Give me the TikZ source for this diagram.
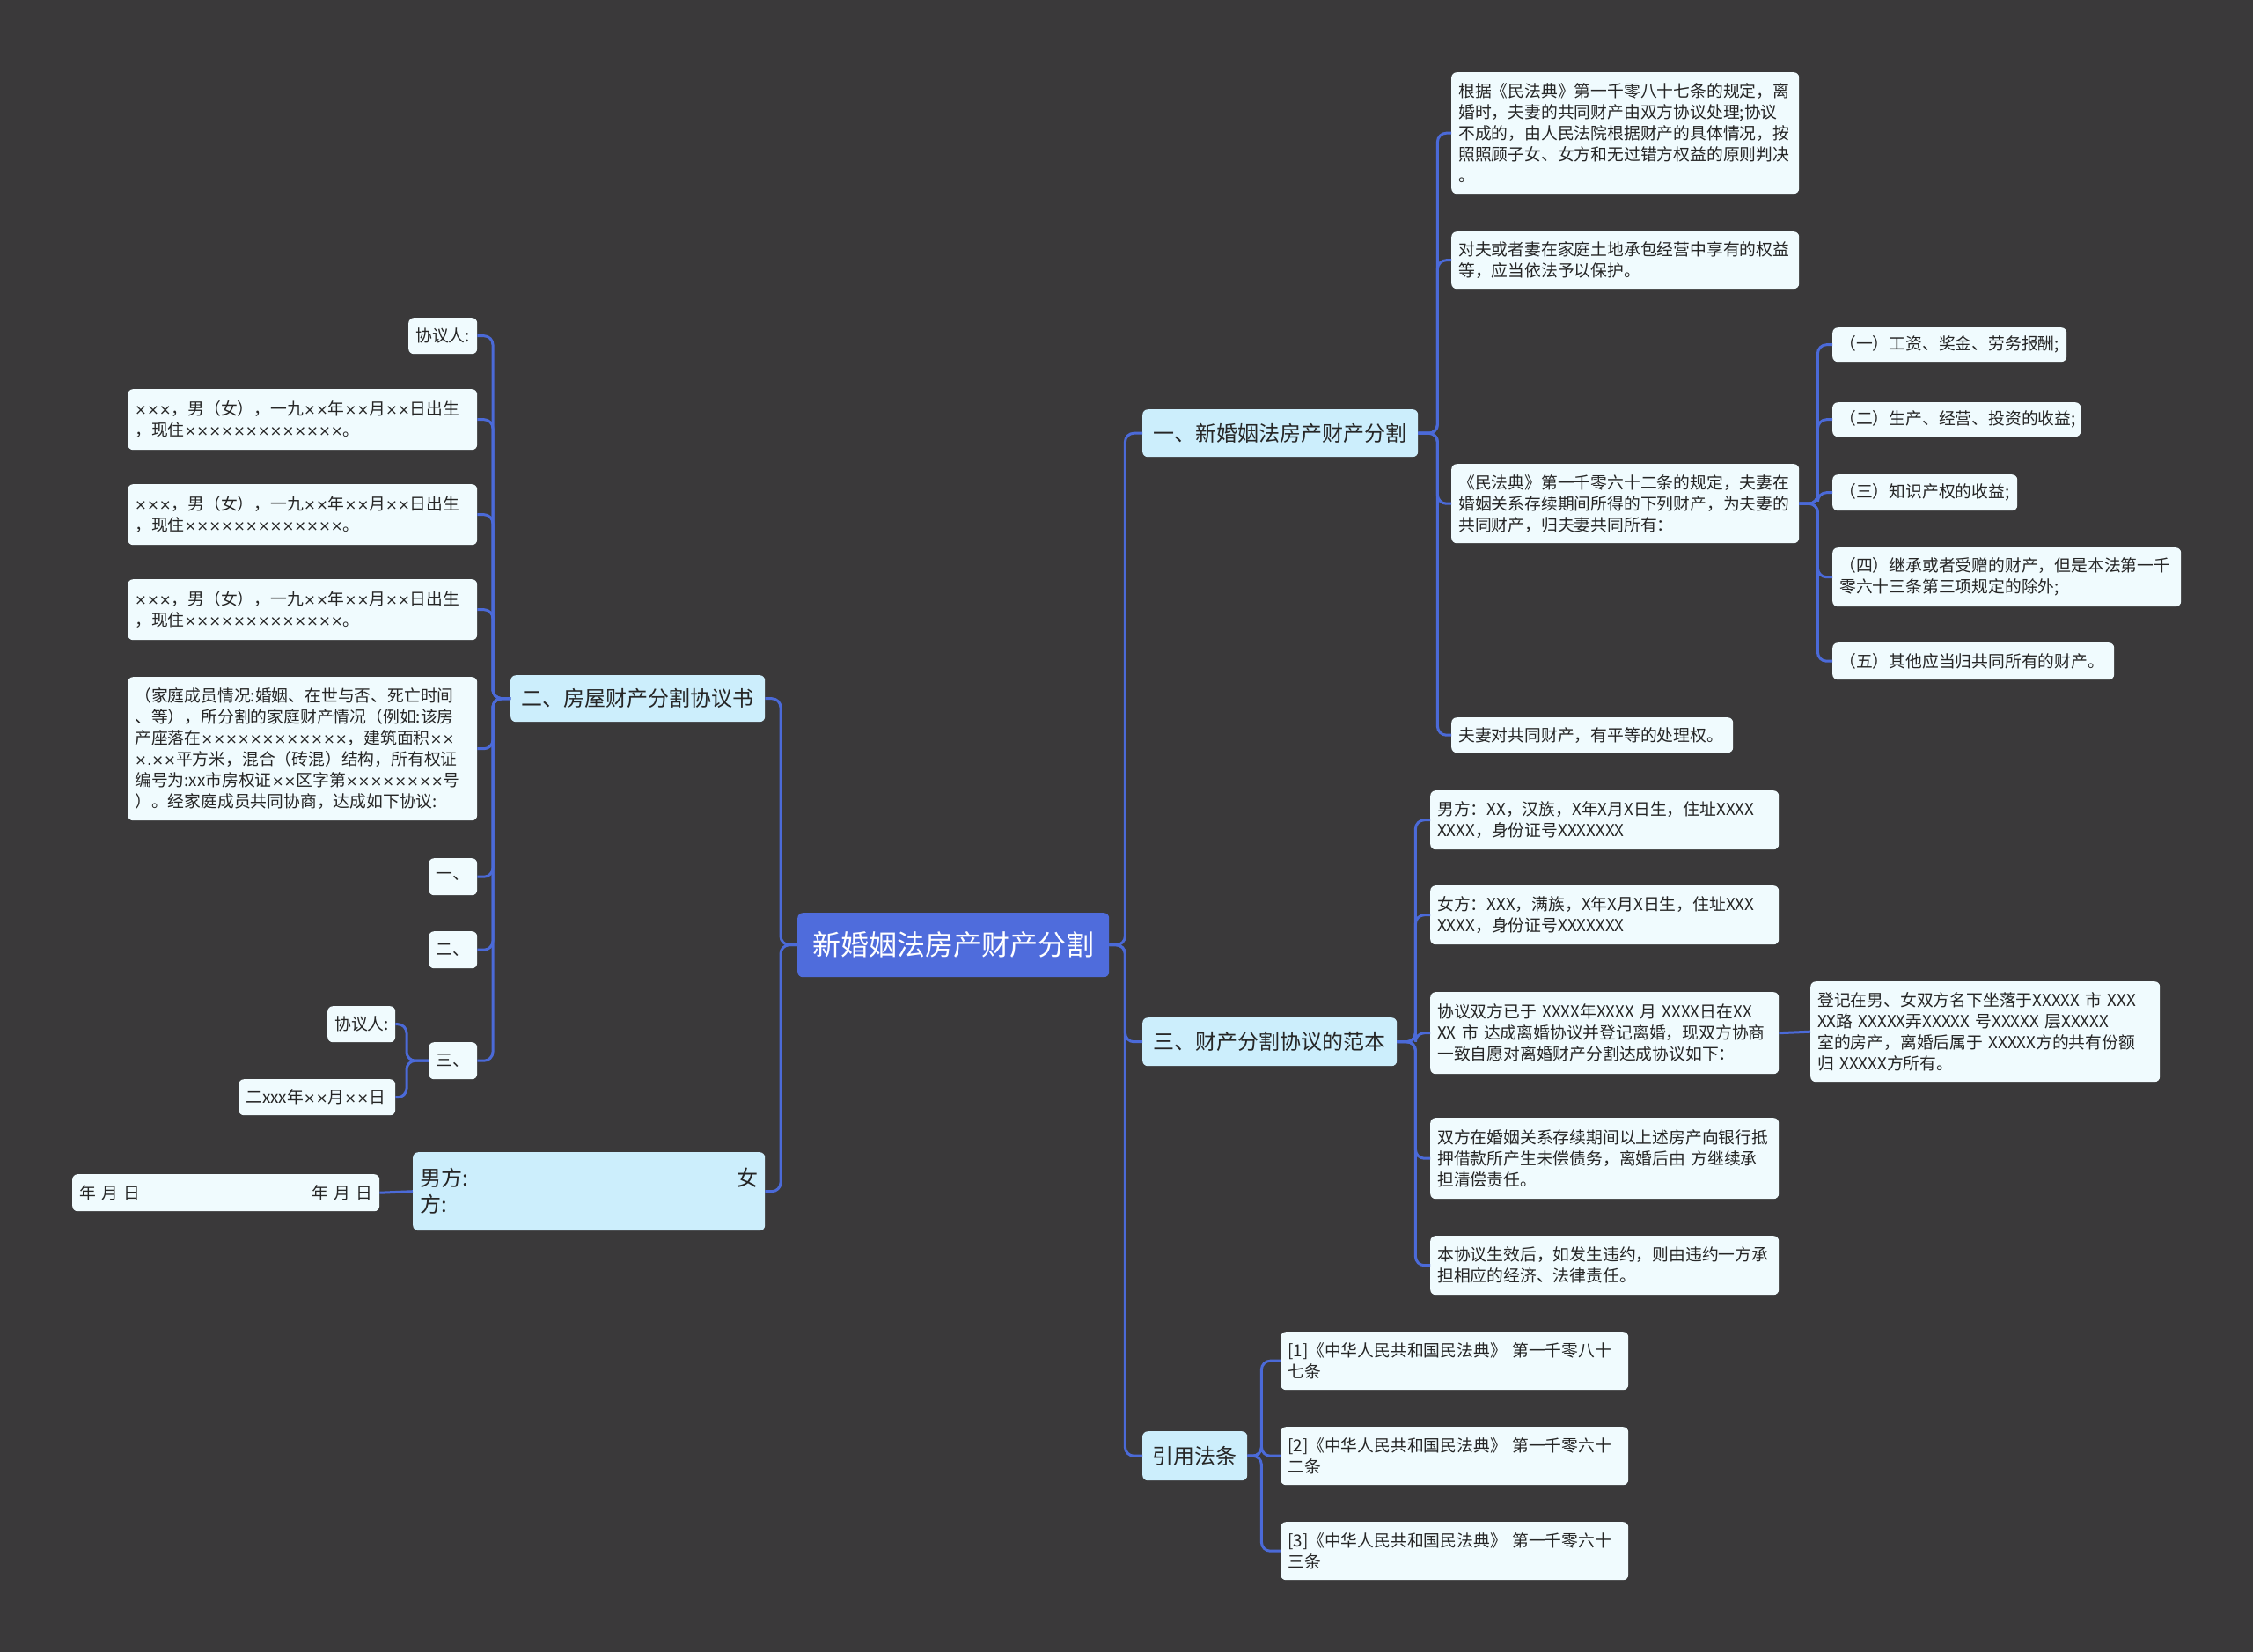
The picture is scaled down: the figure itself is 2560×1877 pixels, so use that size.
\documentclass[tikz,border=0pt]{standalone}
\usepackage{fontspec}
\setmainfont{Noto Sans CJK SC}
\newfontfamily\xfont[Scale=0.88]{DejaVu Sans}
\newcommand\xs[1]{{\xfont #1}}
\definecolor{bgc}{HTML}{3A393A}
\definecolor{rootc}{HTML}{4F6CDC}
\definecolor{branchc}{HTML}{CCEEFC}
\definecolor{leafc}{HTML}{F0FBFE}
\definecolor{linec}{HTML}{4B6AD8}

\begin{document}
\begin{tikzpicture}[x=1pt, y=-1pt,
  box/.style={rounded corners=6, inner xsep=8, inner ysep=0, anchor=north west},
  leaf/.style={box, fill=leafc, text=black!85, align=left, font=\fontsize{18.8}{24}\selectfont},
  branch/.style={box, fill=branchc, text=black!85, align=center, font=\fontsize{24}{30}\selectfont},
  link/.style={draw=linec, line width=3, rounded corners=10}]
  \fill[bgc] (0,0) rectangle (2560,1877);
  \useasboundingbox (0,0) rectangle (2560,1877);

  \node[box, fill=rootc, text=white, font=\fontsize{32}{38}\selectfont, minimum width=354, minimum height=73] (root) at (906,1037) {新婚姻法房产财产分割};

  \node[branch, minimum width=313, minimum height=54] (b1) at (1298,465) {一、新婚姻法房产财产分割};
  \node[leaf, text width=379, minimum height=138] (a1) at (1649,82) {根据《民法典》第一千零八十七条的规定，离\\婚时，夫妻的共同财产由双方协议处理;协议\\不成的，由人民法院根据财产的具体情况，按\\照照顾子女、女方和无过错方权益的原则判决\\。};
  \node[leaf, text width=379, minimum height=65] (a2) at (1649,263) {对夫或者妻在家庭土地承包经营中享有的权益\\等，应当依法予以保护。};
  \node[leaf, text width=379, minimum height=90] (a3) at (1649,527) {《民法典》第一千零六十二条的规定，夫妻在\\婚姻关系存续期间所得的下列财产，为夫妻的\\共同财产，归夫妻共同所有：};
  \node[leaf, text width=304, minimum height=40] (a4) at (1649,815) {夫妻对共同财产，有平等的处理权。};
  \node[leaf, text width=250, minimum height=39] (c1) at (2082,372) {（一）工资、奖金、劳务报酬;};
  \node[leaf, text width=266, minimum height=39] (c2) at (2082,457) {（二）生产、经营、投资的收益;};
  \node[leaf, text width=194, minimum height=41] (c3) at (2082,539) {（三）知识产权的收益;};
  \node[leaf, text width=380, minimum height=67] (c4) at (2082,622) {（四）继承或者受赠的财产，但是本法第一千\\零六十三条第三项规定的除外;};
  \node[leaf, text width=304, minimum height=42] (c5) at (2082,730) {（五）其他应当归共同所有的财产。};

  \node[branch, minimum width=289, minimum height=55] (b3) at (1298,1156) {三、财产分割协议的范本};
  \node[leaf, text width=380, minimum height=67] (d1) at (1625,898) {男方：XX，汉族，X年X月X日生，住址XXXX\\XXXX，身份证号XXXXXXX};
  \node[leaf, text width=380, minimum height=67] (d2) at (1625,1006) {女方：XXX，满族，X年X月X日生，住址XXX\\XXXX，身份证号XXXXXXX};
  \node[leaf, text width=380, minimum height=93] (d3) at (1625,1127) {协议双方已于 XXXX年XXXX 月 XXXX日在XX\\XX 市 达成离婚协议并登记离婚，现双方协商\\一致自愿对离婚财产分割达成协议如下：};
  \node[leaf, text width=380, minimum height=92] (d4) at (1625,1270) {双方在婚姻关系存续期间以上述房产向银行抵\\押借款所产生未偿债务，离婚后由 方继续承\\担清偿责任。};
  \node[leaf, text width=380, minimum height=67] (d5) at (1625,1404) {本协议生效后，如发生违约，则由违约一方承\\担相应的经济、法律责任。};
  \node[leaf, text width=381, minimum height=114] (e1) at (2057,1115) {登记在男、女双方名下坐落于XXXXX 市 XXX\\XX路 XXXXX弄XXXXX 号XXXXX 层XXXXX\\室的房产，离婚后属于 XXXXX方的共有份额\\归 XXXXX方所有。};

  \node[branch, minimum width=119, minimum height=56] (b4) at (1298,1626) {引用法条};
  \node[leaf, text width=379, minimum height=66] (f1) at (1455,1513) {[1]《中华人民共和国民法典》 第一千零八十\\七条};
  \node[leaf, text width=379, minimum height=66] (f2) at (1455,1621) {[2]《中华人民共和国民法典》 第一千零六十\\二条};
  \node[leaf, text width=379, minimum height=66] (f3) at (1455,1729) {[3]《中华人民共和国民法典》 第一千零六十\\三条};

  \node[branch, minimum width=289, minimum height=53] (b2) at (580,767) {二、房屋财产分割协议书};
  \node[leaf, text width=62, minimum height=41] (g1) at (464,361) {协议人:};
  \node[leaf, text width=381, minimum height=69] (g2) at (145,442) {\xs{×××}，男（女），一九\xs{××}年\xs{××}月\xs{××}日出生\\，现住\xs{×××××××××××××}。};
  \node[leaf, text width=381, minimum height=69] (g3) at (145,550) {\xs{×××}，男（女），一九\xs{××}年\xs{××}月\xs{××}日出生\\，现住\xs{×××××××××××××}。};
  \node[leaf, text width=381, minimum height=69] (g4) at (145,658) {\xs{×××}，男（女），一九\xs{××}年\xs{××}月\xs{××}日出生\\，现住\xs{×××××××××××××}。};
  \node[leaf, text width=381, minimum height=163] (g5) at (145,769) {（家庭成员情况:婚姻、在世与否、死亡时间\\、等），所分割的家庭财产情况（例如:该房\\产座落在\xs{××××××××××××}，建筑面积\xs{××}\\\xs{×.××}平方米，混合（砖混）结构，所有权证\\编号为:xx市房权证\xs{××}区字第\xs{××××××××}号\\）。经家庭成员共同协商，达成如下协议:};
  \node[leaf, text width=39, minimum height=42] (g6) at (487,975) {一、};
  \node[leaf, text width=39, minimum height=42] (g7) at (487,1058) {二、};
  \node[leaf, text width=39, minimum height=42] (g8) at (487,1184) {三、};
  \node[leaf, text width=61, minimum height=41] (h1) at (372,1143) {协议人:};
  \node[leaf, text width=162, minimum height=41] (h2) at (271,1226) {二xxx年\xs{××}月\xs{××}日};

  \node[branch, align=left, text width=384, minimum height=89] (b5) at (469,1309) {男方:\hfill 女\\方:};
  \node[leaf, text width=333, minimum height=42] (k1) at (82,1334) {年 月 日\hfill 年 月 日};

  \draw[link] (root.east) -- ++(18,0) |- (b1.west);
  \draw[link] (root.east) -- ++(18,0) |- (b3.west);
  \draw[link] (root.east) -- ++(18,0) |- (b4.west);
  \draw[link] (b1.east) -- ++(22,0) |- (a1.west);
  \draw[link] (b1.east) -- ++(22,0) |- (a2.west);
  \draw[link] (b1.east) -- ++(22,0) |- (a3.west);
  \draw[link] (b1.east) -- ++(22,0) |- (a4.west);
  \draw[link] (a3.east) -- ++(21,0) |- (c1.west);
  \draw[link] (a3.east) -- ++(21,0) |- (c2.west);
  \draw[link] (a3.east) -- ++(21,0) |- (c3.west);
  \draw[link] (a3.east) -- ++(21,0) |- (c4.west);
  \draw[link] (a3.east) -- ++(21,0) |- (c5.west);
  \draw[link] (b3.east) -- ++(21,0) |- (d1.west);
  \draw[link] (b3.east) -- ++(21,0) |- (d2.west);
  \draw[link] (b3.east) -- ++(21,0) |- (d3.west);
  \draw[link] (b3.east) -- ++(21,0) |- (d4.west);
  \draw[link] (b3.east) -- ++(21,0) |- (d5.west);
  \draw[link] (d3.east) -- (e1.west);
  \draw[link] (b4.east) -- ++(16,0) |- (f1.west);
  \draw[link] (b4.east) -- ++(16,0) |- (f2.west);
  \draw[link] (b4.east) -- ++(16,0) |- (f3.west);

  \draw[link] (root.west) -- ++(-19,0) |- (b2.east);
  \draw[link] (root.west) -- ++(-19,0) |- (b5.east);
  \draw[link] (b2.west) -- ++(-20,0) |- (g1.east);
  \draw[link] (b2.west) -- ++(-20,0) |- (g2.east);
  \draw[link] (b2.west) -- ++(-20,0) |- (g3.east);
  \draw[link] (b2.west) -- ++(-20,0) |- (g4.east);
  \draw[link] (b2.west) -- ++(-20,0) |- (g5.east);
  \draw[link] (b2.west) -- ++(-20,0) |- (g6.east);
  \draw[link] (b2.west) -- ++(-20,0) |- (g7.east);
  \draw[link] (b2.west) -- ++(-20,0) |- (g8.east);
  \draw[link] (g8.west) -- ++(-25,0) |- (h1.east);
  \draw[link] (g8.west) -- ++(-25,0) |- (h2.east);
  \draw[link] (b5.west) -- (k1.east);
\end{tikzpicture}
\end{document}
